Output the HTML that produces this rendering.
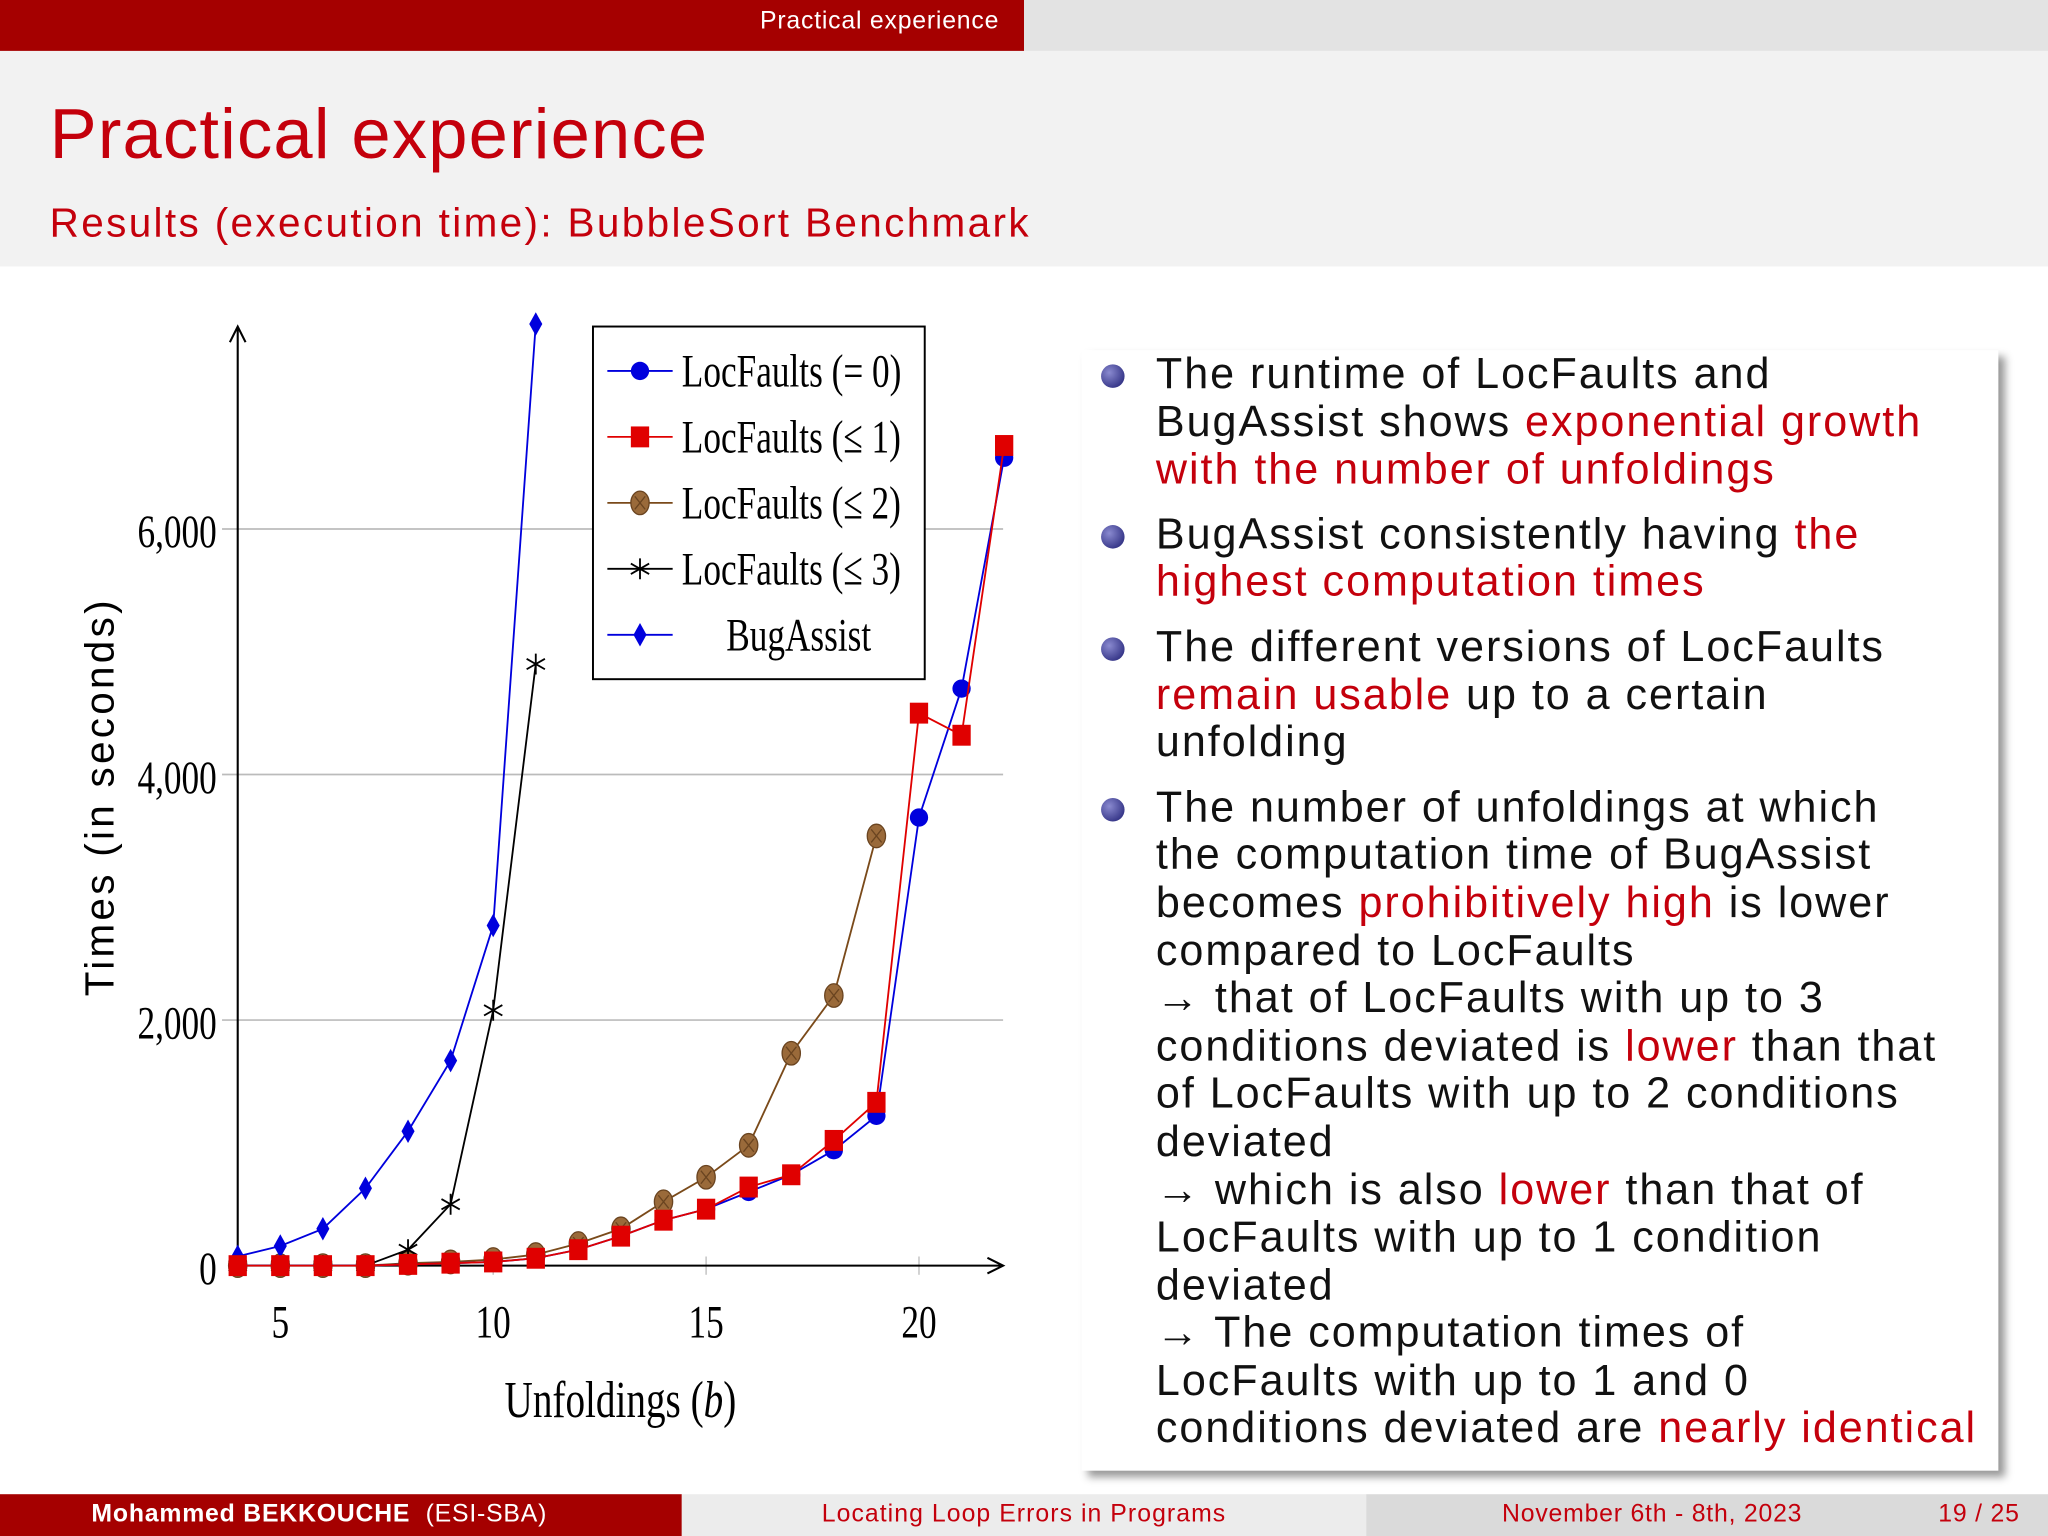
<!DOCTYPE html>
<html><head><meta charset="utf-8"><style>
body{margin:0;width:2048px;height:1536px;overflow:hidden;background:#fff;font-family:"Liberation Sans",sans-serif}
#s{position:absolute;left:0;top:0;width:1568px;height:1176px;transform:scale(1.306122);transform-origin:0 0}
.a{position:absolute}
.r{color:#c4000c}
.bl{position:relative;padding-left:42px;white-space:nowrap}
.bl .dot{position:absolute;left:0;top:11px;width:18px;height:18px;border-radius:50%;background:radial-gradient(circle at 35% 35%,#8a8ad0,#1a1a70)}
</style></head><body><div id="s">
<div class="a" style="left:0;top:0;width:784px;height:39px;background:#a50000"></div>
<div class="a" style="left:784px;top:0;width:784px;height:39px;background:#e3e3e3"></div>
<div class="a" style="left:0;top:6px;width:765px;text-align:right;color:#fff;font-size:19px;letter-spacing:0.6px">Practical experience</div>
<div class="a" style="left:0;top:39px;width:1568px;height:165px;background:#f2f2f2"></div>
<div class="a r" style="left:38px;top:72px;font-size:54px;letter-spacing:0.9px">Practical experience</div>
<div class="a r" style="left:38px;top:153px;font-size:31px;letter-spacing:1.8px">Results (execution time): BubbleSort Benchmark</div>

<div class="a" style="left:828px;top:268px;width:702px;height:858px;background:#fff;box-shadow:5px 5px 6px #999"></div>
<div class="a" style="left:843px;top:268px;width:680px;font-size:33px;letter-spacing:1.5px;line-height:36.6px;color:#111">
<div class="bl"><span class="dot"></span>The runtime of LocFaults and<br>BugAssist shows <span class="r">exponential growth</span><br><span class="r">with the number of unfoldings</span></div>
<div class="bl" style="margin-top:13px"><span class="dot"></span>BugAssist consistently having <span class="r">the</span><br><span class="r">highest computation times</span></div>
<div class="bl" style="margin-top:13px"><span class="dot"></span>The different versions of LocFaults<br><span class="r">remain usable</span> up to a certain<br>unfolding</div>
<div class="bl" style="margin-top:13px"><span class="dot"></span>The number of unfoldings at which<br>the computation time of BugAssist<br>becomes <span class="r">prohibitively high</span> is lower<br>compared to LocFaults<br>→ that of LocFaults with up to 3<br>conditions deviated is <span class="r">lower</span> than that<br>of LocFaults with up to 2 conditions<br>deviated<br>→ which is also <span class="r">lower</span> than that of<br>LocFaults with up to 1 condition<br>deviated<br>→ The computation times of<br>LocFaults with up to 1 and 0<br>conditions deviated are <span class="r">nearly identical</span></div>
</div>

<svg class="a" style="left:0;top:0" width="1568" height="1176" id="chart"></svg>

<div class="a" style="left:0;top:1144px;width:522px;height:32px;background:#a50000;color:#fff;font-size:19px;line-height:32px;letter-spacing:0.6px"><span style="margin-left:70px;font-weight:bold">Mohammed BEKKOUCHE</span>&nbsp; (ESI-SBA)</div>
<div class="a r" style="left:522px;top:1144px;width:524px;height:32px;background:#ececec;font-size:19px;line-height:32px;text-align:center;letter-spacing:0.8px">Locating Loop Errors in Programs</div>
<div class="a r" style="left:1046px;top:1144px;width:522px;height:32px;background:#dadada;font-size:19px;line-height:32px;letter-spacing:0.6px"><span style="margin-left:104px">November 6th - 8th, 2023</span><span style="position:absolute;left:438px">19 / 25</span></div>
</div>
<script>
const xs=[4,5,6,7,8,9,10,11,12,13,14,15,16,17,18,19,20,21,22];
const lf0=[0,0,0,0,10,20,30,60,130,240,370,460,600,740,940,1220,3650,4700,6580];
const lf1=[0,0,0,0,10,20,30,60,130,240,370,460,640,740,1020,1330,4500,4320,6680];
const lf2=[0,0,0,0,20,30,50,90,180,300,520,720,980,1730,2200,3500];
const lf3=[0,0,0,0,130,500,2080,4900];
const bug=[75,160,300,630,1095,1670,2770,7670];
const yTicks=[0,2000,4000,6000];
const xTicks=[5,10,15,20];
const NS='http://www.w3.org/2000/svg',svg=document.getElementById('chart');
const X=v=>182+(v-4)*32.6, Y=v=>969-v*0.094;
function el(t,a,p){const e=document.createElementNS(NS,t);for(const k in a)e.setAttribute(k,a[k]);(p||svg).appendChild(e);return e;}
yTicks.forEach(v=>{if(v>0){const g=el('line',{x1:170,x2:768,y1:Y(v),y2:Y(v),stroke:'#bbb','stroke-width':1.3});}
 const t=el('text',{x:166,y:Y(v)+14,'text-anchor':'end','font-size':36,'font-family':'Liberation Serif,serif',transform:`translate(${166*0.25},0) scale(0.75,1)`});t.textContent=v.toLocaleString('en-US');});
xTicks.forEach(v=>{const l=el('line',{x1:X(v),x2:X(v),y1:962,y2:976,stroke:'#bbb'});
 const t=el('text',{x:X(v)/0.75,y:1024,'text-anchor':'middle','font-size':36,'font-family':'Liberation Serif,serif',transform:'scale(0.75,1)'});t.textContent=v;});
let ax=el('path',{d:'M182,969 L182,252 M176,262 L182,250 L188,262 M182,969 L766,969 M756,963 L768,969 L756,975',stroke:'#000','stroke-width':1.6,fill:'none'});

let xt=el('text',{x:475/0.75,y:1085,'text-anchor':'middle','font-size':40,'font-family':'Liberation Serif,serif',transform:'scale(0.75,1)'});xt.innerHTML='Unfoldings (<tspan font-style="italic">b</tspan>)';

let yt=el('text',{x:0,y:0,'text-anchor':'middle','font-size':31,'letter-spacing':2.5,'font-family':'Liberation Sans,sans-serif',transform:'translate(87,610) rotate(-90)'});yt.textContent='Times (in seconds)';

function marker(type,x,y,c){let m;
 if(type=='circle')m=el('circle',{cx:x,cy:y,r:7,fill:'#0000dd'});
 else if(type=='square')m=el('rect',{x:x-7,y:y-8,width:14,height:16,fill:'#e00000'});
 else if(type=='ball'){m=el('g',{});el('ellipse',{cx:x,cy:y,rx:7,ry:9,fill:'#9a6a3a',stroke:'#6a4420'},m);el('path',{d:`M${x-4},${y-5}L${x+4},${y+5}M${x+4},${y-5}L${x-4},${y+5}`,stroke:'#6a4420'},m);}
 else if(type=='star')m=el('path',{d:`M${x},${y-8}L${x},${y+8}M${x-7},${y-4}L${x+7},${y+4}M${x+7},${y-4}L${x-7},${y+4}`,stroke:'#000','stroke-width':1.4});
 else m=el('path',{d:`M${x},${y-9}L${x+5},${y}L${x},${y+9}L${x-5},${y}Z`,fill:'#0000dd'});
 return m;}
const series=[[lf2,'#7a4a1a','ball','series-locfaults-le2'],[lf3,'#000','star','series-locfaults-le3'],[bug,'#0000dd','diamond','series-bugassist'],[lf0,'#0000dd','circle','series-locfaults-eq0'],[lf1,'#e00000','square','series-locfaults-le1']];
series.forEach(([d,c,t,n])=>{const g=el('g',{});
 el('polyline',{points:d.map((v,i)=>X(xs[i])+','+Y(v)).join(' '),fill:'none',stroke:c,'stroke-width':1.4},g);
 d.forEach((v,i)=>{const m=marker(t,X(xs[i]),Y(v),c);g.appendChild(m);});});
const lg=el('g',{});
el('rect',{x:454,y:250,width:254,height:270,fill:'#fff',stroke:'#000','stroke-width':1.5},lg);
const leg=[['#0000dd','circle','LocFaults (= 0)'],['#e00000','square','LocFaults (≤ 1)'],['#7a4a1a','ball','LocFaults (≤ 2)'],['#000','star','LocFaults (≤ 3)'],['#0000dd','diamond','BugAssist']];
leg.forEach(([c,t,l],i)=>{const y=284+i*50.5;const g=el('g',{},lg);
 el('line',{x1:465,x2:515,y1:y,y2:y,stroke:c,'stroke-width':1.4},g);g.appendChild(marker(t,490,y,c));
 const tx=el('text',{x:(i==4?556:522)/0.75,y:y+12,'font-size':36,'font-family':'Liberation Serif,serif',transform:'scale(0.75,1)'},g);tx.textContent=l;});
</script></body></html>
